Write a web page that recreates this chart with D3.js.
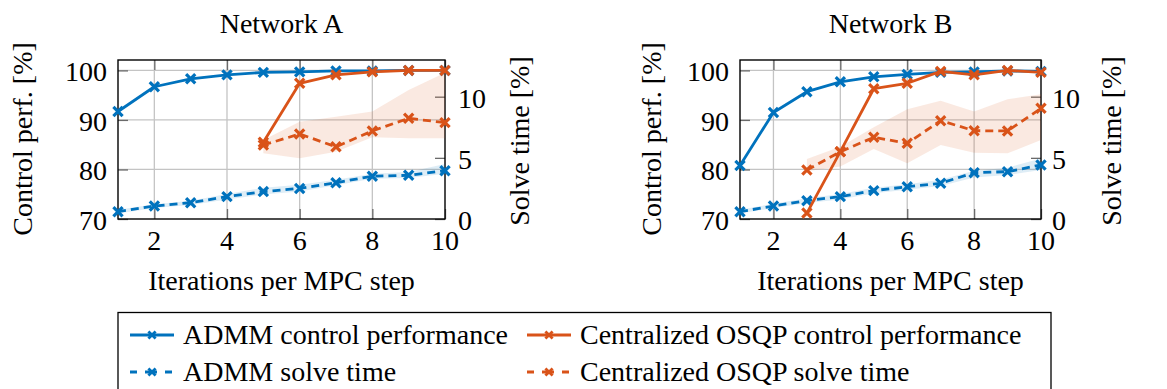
<!DOCTYPE html>
<html>
<head>
<meta charset="utf-8">
<script src="https://cdn.jsdelivr.net/npm/d3@7"></script>
<style>
  html, body { margin: 0; padding: 0; background: #fff; }
</style>
</head>
<body>
<svg id="chart" width="1167" height="389"></svg>
<script>
// Iterations per MPC step
const iterations = [1, 2, 3, 4, 5, 6, 7, 8, 9, 10];
const xTicks = [2, 4, 6, 8, 10];
const perfTicks = [70, 80, 90, 100];
const timeTicks = [0, 5, 10];

// Network A
const aAdmmPerf = [91.7, 96.7, 98.3, 99.1, 99.6, 99.7, 99.9, 99.9, 100, 100];
const aAdmmTime = [0.6, 1.06, 1.33, 1.83, 2.24, 2.5, 2.97, 3.5, 3.57, 3.95];
const aAdmmTimeLo = [0.45, 0.9, 1.15, 1.6, 2.0, 2.25, 2.75, 3.3, 3.35, 3.7];
const aAdmmTimeHi = [0.75, 1.2, 1.5, 2.05, 2.55, 2.8, 3.2, 3.7, 3.85, 4.5];
const aOsqpIter = [5, 6, 7, 8, 9, 10];
const aOsqpPerf = [85.5, 97.4, 99.1, 99.7, 100, 100];
const aOsqpTime = [6.05, 6.95, 5.9, 7.2, 8.23, 7.88];
const aOsqpTimeLo = [5.37, 4.96, 5.5, 6.68, 6.6, 6.6];
const aOsqpTimeHi = [6.46, 7.96, 8.37, 8.78, 10.55, 11.96];

// Network B
const bAdmmPerf = [80.8, 91.5, 95.7, 97.7, 98.7, 99.2, 99.6, 99.7, 99.9, 99.8];
const bAdmmTime = [0.6, 1.06, 1.5, 1.83, 2.32, 2.64, 2.92, 3.79, 3.87, 4.42];
const bAdmmTimeLo = [0.45, 0.9, 1.3, 1.6, 2.1, 2.4, 2.7, 3.4, 3.6, 4.0];
const bAdmmTimeHi = [0.75, 1.25, 1.7, 2.05, 2.55, 2.85, 3.2, 3.95, 4.2, 4.95];
const bOsqpIter = [3, 4, 5, 6, 7, 8, 9, 10];
const bOsqpPerf = [71.2, 83.6, 96.3, 97.4, 99.8, 99.1, 100, 99.6];
const bOsqpTime = [4.0, 5.5, 6.68, 6.19, 8.04, 7.22, 7.2, 9.05];
const bOsqpTimeLo = [3.9, 4.3, 5.72, 4.55, 6.05, 5.42, 5.37, 6.46];
const bOsqpTimeHi = [4.9, 5.9, 7.5, 8.97, 9.67, 8.78, 9.79, 10.2];

const seriesNames = [
  "ADMM control performance",
  "Centralized OSQP control performance",
  "ADMM solve time",
  "Centralized OSQP solve time"
];

const BLUE = "#0072BD";
const ORANGE = "#D95319";
const FONT = 28;

const svg = d3.select("#chart");
const marks = svg.append("g");

const zip = (xs, ys) => xs.map((x, i) => [x, ys[i]]);
const band = (xs, lo, hi) => xs.map((x, i) => ({ x, lo: lo[i], hi: hi[i] }));

// all texts are collected and appended straight under the svg root at the end
const texts = [];
function addText(str, x, y, anchor, rotate) {
  texts.push({ str: String(str), x, y, anchor, rotate: !!rotate });
}

const panels = [
  {
    title: "Network A", left: 118, right: 445, leftLabelX: 32, rightLabelX: 529, rightTickGap: 13,
    admmPerf: zip(iterations, aAdmmPerf), admmTime: zip(iterations, aAdmmTime),
    admmBand: band(iterations, aAdmmTimeLo, aAdmmTimeHi),
    osqpPerf: zip(aOsqpIter, aOsqpPerf), osqpTime: zip(aOsqpIter, aOsqpTime),
    osqpBand: band(aOsqpIter, aOsqpTimeLo, aOsqpTimeHi)
  },
  {
    title: "Network B", left: 740, right: 1041, leftLabelX: 661, rightLabelX: 1121, rightTickGap: 11,
    admmPerf: zip(iterations, bAdmmPerf), admmTime: zip(iterations, bAdmmTime),
    admmBand: band(iterations, bAdmmTimeLo, bAdmmTimeHi),
    osqpPerf: zip(bOsqpIter, bOsqpPerf), osqpTime: zip(bOsqpIter, bOsqpTime),
    osqpBand: band(bOsqpIter, bOsqpTimeLo, bOsqpTimeHi)
  }
];

const TOP = 60, BOTTOM = 219;
const TICK_LEN = 10;

function drawMarker(g, cx, cy, color, r, w) {
  g.append("path")
    .attr("d", `M${cx - r},${cy - r}L${cx + r},${cy + r}M${cx - r},${cy + r}L${cx + r},${cy - r}`)
    .attr("stroke", color).attr("stroke-width", w).attr("fill", "none")
    .attr("stroke-linecap", "butt");
}

panels.forEach(p => {
  const x = d3.scaleLinear().domain([1, 10]).range([p.left, p.right]);
  const yPerf = d3.scaleLinear().domain([70, 102.1]).range([BOTTOM, TOP]);
  const yTime = d3.scaleLinear().domain([0, 13]).range([BOTTOM, TOP]);
  const g = marks.append("g");

  // grid
  g.append("g").selectAll("line").data(xTicks.filter(t => t < 10)).join("line")
    .attr("x1", d => x(d)).attr("x2", d => x(d)).attr("y1", TOP).attr("y2", BOTTOM)
    .attr("stroke", "#c4c4c4").attr("stroke-width", 1.3);
  g.append("g").selectAll("line").data(perfTicks.filter(t => t > 70)).join("line")
    .attr("x1", p.left).attr("x2", p.right).attr("y1", d => yPerf(d)).attr("y2", d => yPerf(d))
    .attr("stroke", "#c4c4c4").attr("stroke-width", 1.3);

  // inward tick marks via d3 axes (labels are set separately)
  const tickStyle = sel => {
    sel.attr("font-family", null).attr("font-size", null).attr("text-anchor", null);
    sel.select(".domain").remove();
    sel.selectAll(".tick text").remove();
    sel.selectAll(".tick line").attr("stroke", "#6a6a6a").attr("stroke-width", 1.3);
  };
  g.append("g").attr("transform", `translate(0,${BOTTOM})`)
    .call(d3.axisTop(x).tickValues(xTicks).tickSize(TICK_LEN)).call(tickStyle);
  g.append("g").attr("transform", `translate(0,${TOP})`)
    .call(d3.axisBottom(x).tickValues(xTicks).tickSize(TICK_LEN)).call(tickStyle);
  g.append("g").attr("transform", `translate(${p.left},0)`)
    .call(d3.axisRight(yPerf).tickValues(perfTicks).tickSize(TICK_LEN)).call(tickStyle);
  g.append("g").attr("transform", `translate(${p.right},0)`)
    .call(d3.axisLeft(yTime).tickValues(timeTicks).tickSize(TICK_LEN)).call(tickStyle);

  // frame
  g.append("rect").attr("x", p.left).attr("y", TOP)
    .attr("width", p.right - p.left).attr("height", BOTTOM - TOP)
    .attr("fill", "none").attr("stroke", "#000").attr("stroke-width", 1.4);

  // spread bands of solve time
  const area = d3.area().x(d => x(d.x)).y0(d => yTime(d.lo)).y1(d => yTime(d.hi));
  g.append("path").datum(p.admmBand).attr("d", area).attr("fill", BLUE).attr("fill-opacity", 0.13);
  g.append("path").datum(p.osqpBand).attr("d", area).attr("fill", ORANGE).attr("fill-opacity", 0.13);

  const linePerf = d3.line().x(d => x(d[0])).y(d => yPerf(d[1]));
  const lineTime = d3.line().x(d => x(d[0])).y(d => yTime(d[1]));

  const series = [
    { data: p.admmTime, line: lineTime, y: yTime, color: BLUE, dash: "8,5" },
    { data: p.admmPerf, line: linePerf, y: yPerf, color: BLUE, dash: null },
    { data: p.osqpTime, line: lineTime, y: yTime, color: ORANGE, dash: "8,5" },
    { data: p.osqpPerf, line: linePerf, y: yPerf, color: ORANGE, dash: null }
  ];
  series.forEach(s => {
    g.append("path").datum(s.data).attr("d", s.line)
      .attr("fill", "none").attr("stroke", s.color).attr("stroke-width", 2.8)
      .attr("stroke-linejoin", "round")
      .attr("stroke-dasharray", s.dash);
    s.data.forEach(d => drawMarker(g, x(d[0]), s.y(d[1]), s.color, 4.6, 3.2));
  });

  // tick labels
  xTicks.forEach(t => addText(t, x(t), 250, "middle"));
  perfTicks.forEach(t => addText(t, p.left - 11, yPerf(t) + 11, "end"));
  timeTicks.forEach(t => addText(t, p.right + p.rightTickGap, yTime(t) + 11, "start"));

  // titles and axis labels
  const cx = (p.left + p.right) / 2;
  addText(p.title, cx, 33, "middle");
  addText("Iterations per MPC step", cx, 290, "middle");
  addText("Control perf. [%]", p.leftLabelX, 139, "middle", true);
  addText("Solve time [%]", p.rightLabelX, 141, "middle", true);
});

// legend
const legend = marks.append("g");
legend.append("rect").attr("x", 118).attr("y", 312.5).attr("width", 933).attr("height", 100)
  .attr("fill", "#fff").attr("stroke", "#000").attr("stroke-width", 1.3);

const legendItems = [
  { name: seriesNames[0], color: BLUE, dash: null, col: 0, row: 0 },
  { name: seriesNames[1], color: ORANGE, dash: null, col: 1, row: 0 },
  { name: seriesNames[2], color: BLUE, dash: "7,8,12,8,7", col: 0, row: 1 },
  { name: seriesNames[3], color: ORANGE, dash: "7,8,12,8,7", col: 1, row: 1 }
];
const colX = [130, 527];
const rowY = [335, 372];
legendItems.forEach(it => {
  const x0 = colX[it.col], y0 = rowY[it.row];
  legend.append("line").attr("x1", x0).attr("x2", x0 + 44).attr("y1", y0).attr("y2", y0)
    .attr("stroke", it.color).attr("stroke-width", 2.8).attr("stroke-dasharray", it.dash);
  drawMarker(legend, x0 + 22, y0, it.color, 3.6, 2.8);
  addText(it.name, x0 + 53, y0 + 9, "start");
});

// text layer, directly under the root
svg.selectAll("text.lbl").data(texts).join("text")
  .attr("class", "lbl")
  .attr("x", d => d.rotate ? 0 : d.x)
  .attr("y", d => d.rotate ? 0 : d.y)
  .attr("transform", d => d.rotate ? `translate(${d.x},${d.y}) rotate(-90)` : null)
  .attr("text-anchor", d => d.anchor)
  .attr("font-size", FONT)
  .style("font-family", "'Liberation Serif'")
  .text(d => d.str);
</script>
</body>
</html>
